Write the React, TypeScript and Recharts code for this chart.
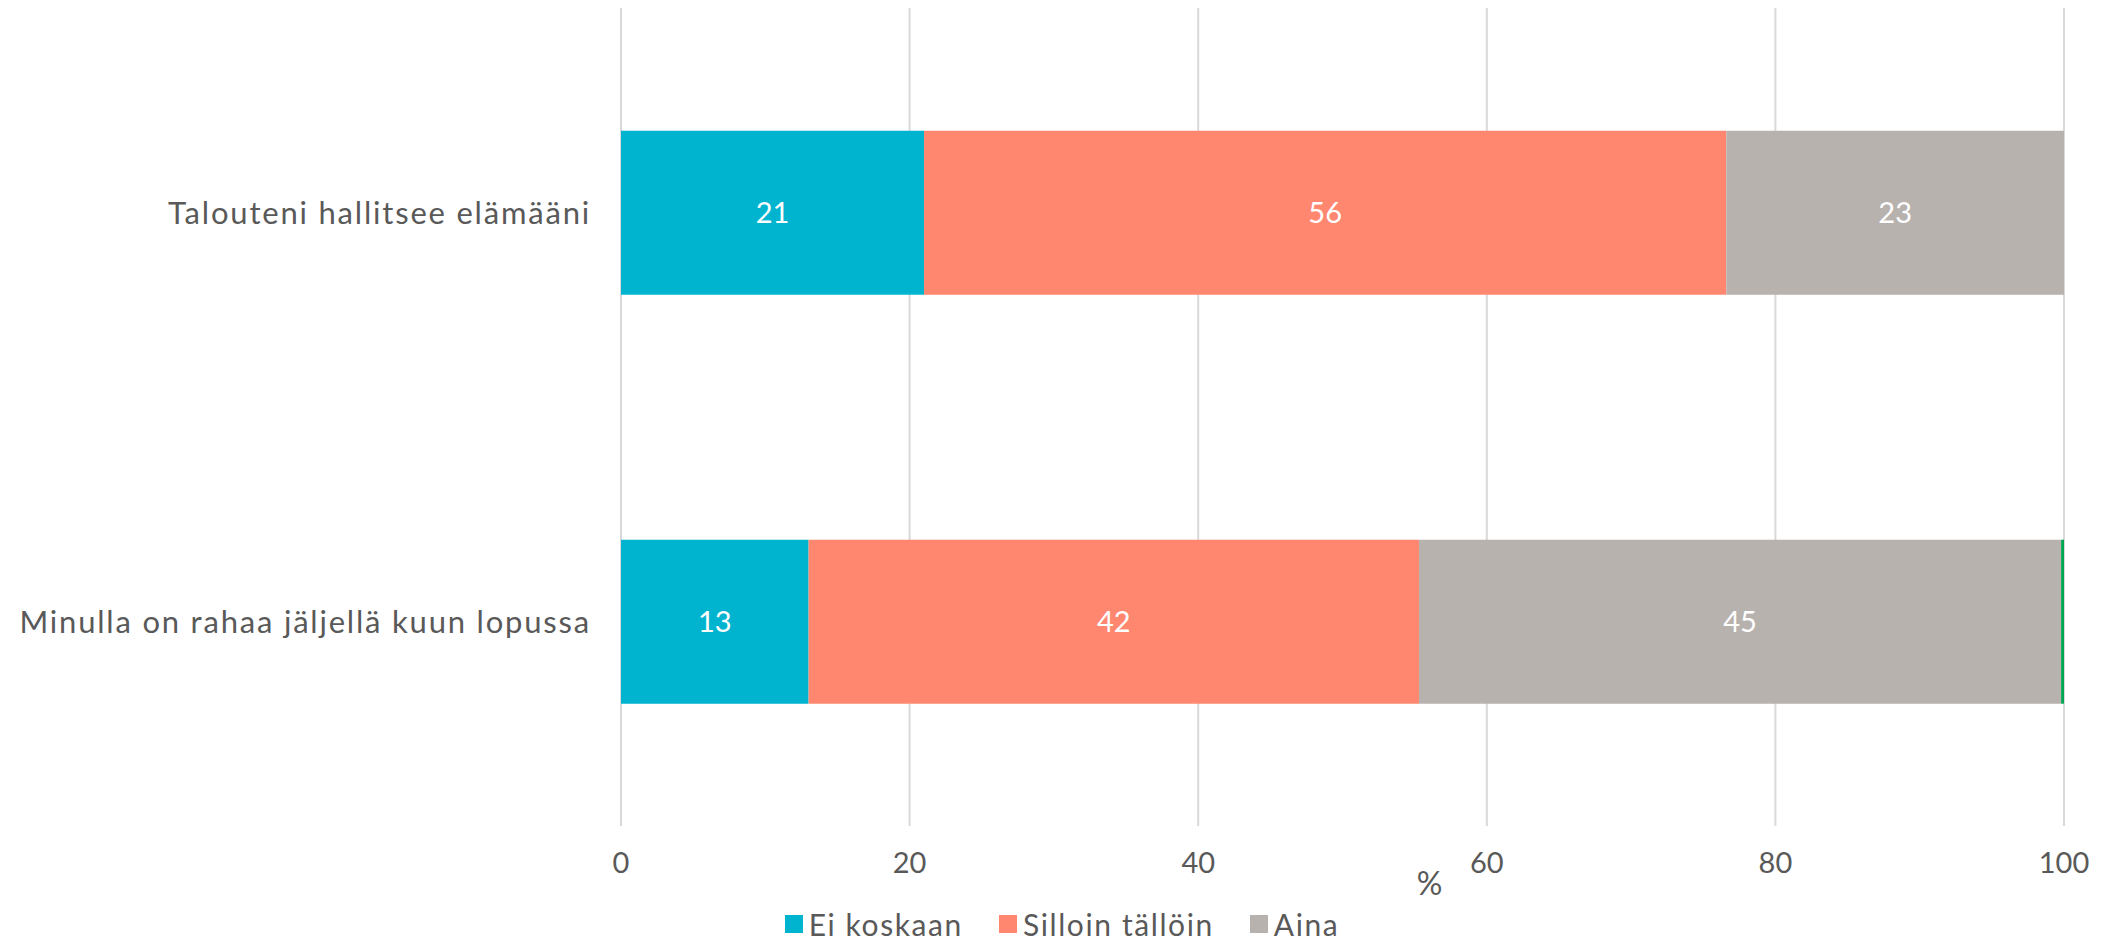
import React from 'react';
import { BarChart, Bar, XAxis, YAxis, CartesianGrid, Legend, LabelList, Label } from 'recharts';

const categories = ['Talouteni hallitsee elämääni', 'Minulla on rahaa jäljellä kuun lopussa'];
const eiKoskaan = [21, 13];
const silloinTalloin = [55.6, 42.3];
const aina = [23.4, 44.5];
const muu = [0, 0.2];
const xTicks = [0, 20, 40, 60, 80, 100];

const legendItems = [
  { name: 'Ei koskaan', color: '#00B4CF' },
  { name: 'Silloin tällöin', color: '#FF8770' },
  { name: 'Aina', color: '#B8B2AF' },
];

const data = categories.map((c, i) => ({
  name: c,
  ei: eiKoskaan[i],
  sil: silloinTalloin[i],
  aina: aina[i],
  muu: muu[i],
}));

const FONT = 'Lato, "Open Sans", sans-serif';
const TXT = '#595959';
const fmt = (v: any) => (typeof v === 'number' && v >= 1 ? String(Math.round(v)) : '');

const LegendContent = () => (
  <div style={{ display: 'flex', justifyContent: 'center', alignItems: 'center', fontFamily: FONT, fontSize: 30, color: TXT, letterSpacing: 1.6, paddingLeft: 60 }}>
    {legendItems.map((it, i) => (
      <div key={it.name} style={{ display: 'flex', alignItems: 'center', marginRight: i < legendItems.length - 1 ? 36 : 0 }}>
        <span style={{ display: 'inline-block', width: 18, height: 18, background: it.color, marginRight: 6 }} />
        <span>{it.name}</span>
      </div>
    ))}
  </div>
);

export default function App() {
  return (
    <div style={{ position: 'absolute', left: 0, top: 0, width: 2110, height: 942, background: '#fff' }}>
      <BarChart
        width={2110}
        height={942}
        data={data}
        layout="vertical"
        margin={{ top: 8, right: 46, left: 0, bottom: 0 }}
        barCategoryGap="30%"
      >
        <CartesianGrid horizontal={false} stroke="#D9D9D9" strokeWidth={2} />
        <XAxis
          type="number"
          domain={[0, 100]}
          ticks={xTicks}
          axisLine={false}
          tickLine={false}
          tickMargin={20}
          height={80}
          tick={{ fill: TXT, fontSize: 29, fontFamily: FONT }}
        >
          <Label value="%" position="insideBottom" dx={87} offset={11} style={{ fill: TXT, fontSize: 32, fontFamily: FONT }} />
        </XAxis>
        <YAxis
          type="category"
          dataKey="name"
          width={621}
          axisLine={false}
          tickLine={false}
          tickMargin={24}
          tick={{ fill: TXT, fontSize: 31, fontFamily: FONT, letterSpacing: 1.8 }}
        />
        <Legend verticalAlign="bottom" align="center" content={<LegendContent />} />
        <Bar dataKey="ei" name="Ei koskaan" stackId="a" fill="#00B4CF" isAnimationActive={false}>
          <LabelList dataKey="ei" position="center" formatter={fmt} fill="#fff" fontSize={29} fontFamily={FONT} />
        </Bar>
        <Bar dataKey="sil" name="Silloin tällöin" stackId="a" fill="#FF8770" isAnimationActive={false}>
          <LabelList dataKey="sil" position="center" formatter={fmt} fill="#fff" fontSize={29} fontFamily={FONT} />
        </Bar>
        <Bar dataKey="aina" name="Aina" stackId="a" fill="#B8B2AF" isAnimationActive={false}>
          <LabelList dataKey="aina" position="center" formatter={fmt} fill="#fff" fontSize={29} fontFamily={FONT} />
        </Bar>
        <Bar dataKey="muu" name="Muu" stackId="a" fill="#00A651" legendType="none" isAnimationActive={false} />
      </BarChart>
    </div>
  );
}
